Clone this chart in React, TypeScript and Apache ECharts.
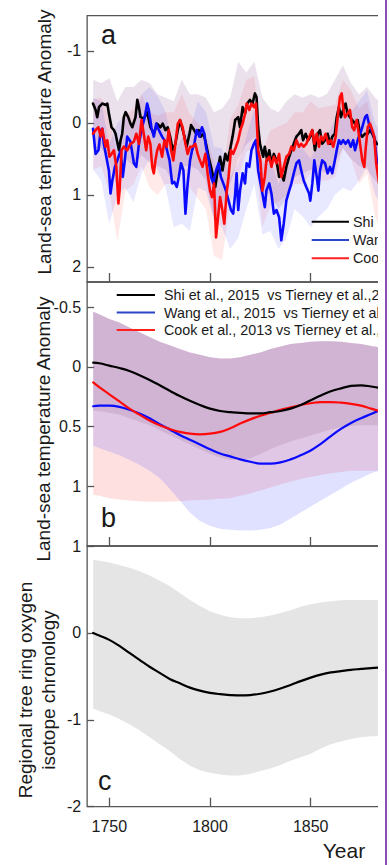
import React, { useEffect, useRef } from "react";
import * as echarts from "echarts";

const FONT = '"Liberation Sans", Arial, Helvetica, sans-serif';
const AXIS = "#555555";
const TXT = "#1a1a1a";

const CHART_W = 390;
const CHART_H = 865;
const VISIBLE_W = 378;

const YEAR_MIN = 1739;
const YEAR_MAX = 1884;
const YEAR_TICKS = [1750, 1800, 1850];

// ---------- panel a: annual land-sea temperature anomaly ----------
const shiA: [number, number][] = [
  [1741.9, -0.27], [1743.2, -0.18], [1744.0, -0.08], [1744.9, -0.22], [1746.5, -0.27], [1748.2, -0.25],
  [1749.0, -0.27], [1749.8, -0.13], [1751.1, 0.06], [1752.3, 0.1], [1753.1, 0.15], [1754.8, 0.38],
  [1755.6, 0.24], [1756.4, 0.15], [1757.2, -0.08], [1758.1, -0.15], [1759.4, -0.08], [1760.5, 0.01],
  [1761.4, 0.06], [1763.0, -0.08], [1763.9, -0.32], [1764.7, -0.22], [1765.5, -0.08], [1767.1, -0.06],
  [1768.8, -0.15], [1770.4, 0.06], [1772.1, 0.15], [1773.7, 0.01], [1775.4, 0.06], [1776.5, 0.01],
  [1777.9, 0.1], [1779.0, 0.06], [1780.2, 0.19], [1781.5, 0.38], [1782.8, 0.29], [1784.0, 0.1],
  [1785.1, -0.04], [1786.1, 0.06], [1787.3, 0.19], [1788.4, 0.33], [1789.8, 0.15], [1790.6, 0.03],
  [1791.7, 0.08], [1793.1, 0.15], [1794.4, 0.1], [1795.5, 0.19], [1796.8, 0.15], [1798.0, 0.29],
  [1799.3, 0.47], [1800.5, 0.61], [1801.6, 0.75], [1802.6, 0.89], [1803.8, 0.66], [1805.0, 0.47],
  [1806.2, 0.66], [1807.6, 0.43], [1808.7, 0.52], [1809.9, 0.38], [1811.2, 0.19], [1812.5, -0.04],
  [1814.0, -0.08], [1814.9, 0.06], [1816.2, -0.22], [1817.4, -0.13], [1818.5, -0.27], [1819.8, -0.32],
  [1821.1, -0.27], [1822.3, -0.41], [1823.1, -0.36], [1823.9, 0.06], [1824.8, 0.29], [1825.6, 0.38],
  [1826.4, 0.47], [1827.2, 0.33], [1828.4, 0.52], [1829.4, 0.38], [1830.5, 0.56], [1831.7, 0.43],
  [1833.0, 0.52], [1834.3, 0.75], [1835.4, 0.7], [1836.6, 0.8], [1837.9, 0.61], [1839.3, 0.47],
  [1840.4, 0.38], [1841.6, 0.29], [1842.9, 0.19], [1844.2, 0.15], [1845.3, 0.1], [1846.2, 0.24],
  [1847.5, 0.15], [1848.7, 0.24], [1849.8, 0.19], [1850.8, 0.1], [1852.1, 0.38], [1853.5, 0.15],
  [1854.6, 0.1], [1855.7, 0.29], [1857.1, 0.24], [1858.4, 0.15], [1859.6, 0.29], [1860.7, 0.19],
  [1862.0, 0.15], [1862.9, -0.08], [1864.0, -0.22], [1865.0, -0.08], [1866.1, -0.18], [1867.3, -0.27],
  [1868.3, -0.13], [1869.5, -0.08], [1870.6, -0.04], [1872.0, 0.01], [1873.3, -0.04], [1874.5, 0.15],
  [1875.6, 0.19], [1877.0, 0.15], [1878.3, 0.15], [1879.4, 0.1], [1880.6, 0.15], [1881.9, 0.24],
  [1882.8, 0.29], [1884.0, 0.3],
];

const wangA: [number, number][] = [
  [1741.9, 0.08], [1743.2, 0.43], [1744.6, 0.38], [1745.7, 0.1], [1746.5, 0.08], [1747.3, 0.29],
  [1748.5, 0.47], [1749.8, 0.66], [1750.6, 0.98], [1751.5, 0.8], [1752.8, 0.61], [1754.0, 0.52],
  [1755.6, 0.38], [1756.7, 0.75], [1757.7, 0.52], [1758.9, 0.19], [1760.5, 0.26], [1762.2, 0.56],
  [1763.4, 0.61], [1764.7, 0.29], [1766.3, 0.06], [1767.6, -0.08], [1768.8, -0.27], [1769.6, -0.18],
  [1770.9, 0.06], [1772.1, 0.19], [1773.3, 0.01], [1774.6, 0.1], [1776.2, 0.19], [1777.4, 0.24],
  [1779.9, 0.52], [1781.2, 0.84], [1782.3, 0.82], [1783.5, 0.89], [1784.5, 0.75], [1785.6, 0.56],
  [1786.8, 0.66], [1787.8, 1.26], [1788.9, 0.84], [1790.1, 0.52], [1791.1, 0.38], [1792.2, 0.29],
  [1793.4, 0.1], [1794.7, 0.19], [1796.0, 0.06], [1797.2, 0.15], [1798.0, 0.33], [1799.3, 0.52],
  [1800.5, 0.75], [1801.6, 0.84], [1803.0, 0.66], [1804.3, 0.56], [1805.4, 0.75], [1806.6, 0.84],
  [1807.9, 0.94], [1809.2, 1.08], [1810.4, 1.21], [1811.5, 1.26], [1812.5, 0.98], [1813.2, 0.7],
  [1814.0, 1.21], [1814.9, 0.94], [1816.2, 0.7], [1817.4, 0.84], [1818.2, 0.56], [1819.5, 0.61],
  [1820.6, 0.38], [1821.8, 0.29], [1822.8, 0.24], [1823.9, 0.66], [1824.8, 0.8], [1826.0, 0.98],
  [1827.2, 1.17], [1828.0, 0.94], [1829.4, 0.84], [1830.5, 0.98], [1831.7, 1.26], [1833.0, 1.21],
  [1834.3, 1.31], [1835.4, 1.63], [1836.6, 1.4], [1837.9, 1.08], [1839.3, 0.94], [1840.4, 0.84],
  [1841.6, 0.7], [1842.9, 0.56], [1844.2, 0.52], [1845.3, 0.66], [1846.5, 0.8], [1847.8, 0.89],
  [1849.2, 0.98], [1849.8, 1.08], [1850.8, 0.84], [1851.8, 0.52], [1853.0, 0.75], [1853.8, 0.94],
  [1854.6, 0.66], [1855.7, 0.52], [1857.1, 0.56], [1858.4, 0.7], [1859.6, 0.61], [1860.7, 0.7],
  [1862.0, 0.52], [1862.9, 0.38], [1864.0, 0.24], [1865.0, 0.29], [1866.1, 0.24], [1867.3, 0.29],
  [1868.6, 0.24], [1869.9, 0.33], [1871.1, 0.24], [1872.0, 0.38], [1873.3, 0.24], [1874.5, 0.15],
  [1875.6, 0.06], [1877.0, -0.08], [1877.9, -0.11], [1878.9, 0.01], [1880.2, 0.1], [1881.5, 0.19],
  [1882.8, 0.52], [1884.0, 0.6],
];

const cookA: [number, number][] = [
  [1741.9, 0.15], [1743.2, 0.1], [1744.6, 0.06], [1745.7, 0.19], [1746.5, 0.08], [1748.2, 0.33],
  [1749.0, 0.24], [1750.1, 0.47], [1751.1, 0.43], [1752.3, 0.38], [1753.5, 0.61], [1754.5, 1.12],
  [1755.1, 0.94], [1756.1, 0.38], [1757.2, 0.33], [1758.9, 0.38], [1760.5, 0.29], [1762.2, 0.26],
  [1763.4, 0.15], [1764.7, 0.29], [1766.0, -0.04], [1767.1, 0.15], [1768.3, 0.38], [1769.3, 0.19],
  [1770.4, 0.29], [1771.3, 0.61], [1772.1, 0.7], [1772.9, 0.52], [1773.8, 0.38], [1774.9, 0.3],
  [1776.2, 0.47], [1777.4, 0.24], [1778.5, 0.33], [1779.5, 0.1], [1780.7, 0.38], [1781.8, 0.52],
  [1782.8, 0.29], [1784.0, 0.01], [1785.1, -0.04], [1786.4, 0.06], [1787.8, 0.29], [1788.9, 0.43],
  [1790.1, 0.33], [1791.4, 0.33], [1792.7, 0.29], [1793.9, 0.43], [1795.0, 0.52], [1796.3, 0.61],
  [1797.7, 0.43], [1798.8, 0.7], [1800.0, 0.94], [1801.0, 1.03], [1802.0, 0.84], [1803.0, 1.59],
  [1804.0, 1.31], [1805.0, 1.03], [1805.9, 1.17], [1807.1, 1.4], [1808.2, 0.98], [1809.2, 0.75],
  [1810.4, 0.38], [1811.5, 0.43], [1812.9, 0.33], [1814.0, 0.24], [1815.1, 0.1], [1816.2, 0.01],
  [1817.4, -0.13], [1818.2, -0.27], [1819.5, -0.18], [1820.6, -0.27], [1821.8, -0.22], [1822.8, -0.27],
  [1823.9, 0.38], [1825.0, 0.52], [1826.0, 0.94], [1827.2, 0.75], [1828.0, 0.52], [1829.4, 0.47],
  [1830.5, 0.61], [1831.7, 0.47], [1833.0, 0.56], [1834.3, 0.43], [1835.4, 0.75], [1836.6, 0.61],
  [1837.9, 0.47], [1839.3, 0.43], [1840.4, 0.33], [1841.6, 0.38], [1842.9, 0.24], [1844.2, 0.33],
  [1845.3, 0.29], [1846.5, 0.33], [1847.8, 0.29], [1849.2, 0.2], [1850.8, 0.1], [1851.8, 0.29],
  [1853.0, 0.15], [1854.1, 0.33], [1855.1, 0.19], [1856.2, 0.24], [1857.4, 0.15], [1858.7, 0.29],
  [1860.0, 0.24], [1861.2, 0.33], [1862.4, 0.19], [1863.4, -0.08], [1864.5, -0.36], [1865.4, -0.41],
  [1866.1, -0.22], [1867.0, -0.08], [1868.3, -0.13], [1869.5, -0.18], [1870.6, 0.06], [1871.6, 0.1],
  [1872.8, -0.04], [1873.6, 0.1], [1874.5, 0.29], [1875.6, 0.52], [1876.6, 0.61], [1877.2, 0.38],
  [1878.3, 0.06], [1879.4, 0.01], [1880.6, 0.1], [1881.5, 0.19], [1882.5, 0.56], [1884.0, 0.85],
];

// uncertainty envelopes for panel a: [year, upper edge, lower edge]
const shiBandA: [number, number, number][] = [
  [1742, -0.6, 0.35], [1746, -0.55, 0.35], [1750, -0.62, 0.55], [1754, -0.3, 0.9], [1758, -0.5, 0.5],
  [1762, -0.5, 0.6], [1766, -0.6, 0.45], [1770, -0.55, 0.55], [1774, -0.4, 0.6], [1778, -0.35, 0.65],
  [1782, -0.3, 0.85], [1786, -0.6, 0.6], [1790, -0.4, 0.6], [1794, -0.4, 0.65], [1798, -0.35, 0.8],
  [1802, -0.15, 1.35], [1806, -0.2, 1.15], [1810, -0.35, 0.85], [1814, -0.85, 0.5], [1818, -0.7, 0.3],
  [1822, -0.85, 0.2], [1826, -0.35, 0.95], [1830, -0.2, 1.0], [1834, -0.15, 1.2], [1838, -0.3, 1.05],
  [1842, -0.4, 0.75], [1846, -0.35, 0.7], [1850, -0.4, 0.65], [1854, -0.35, 0.65], [1858, -0.4, 0.7],
  [1862, -0.6, 0.55], [1866, -0.8, 0.35], [1870, -0.55, 0.5], [1874, -0.4, 0.6], [1878, -0.5, 0.65],
  [1882, -0.35, 0.8], [1884, -0.3, 0.85],
];

const wangBandA: [number, number, number][] = [
  [1742, -0.35, 0.65], [1746, -0.3, 0.8], [1750, 0.3, 1.4], [1754, 0.0, 1.0], [1758, -0.1, 0.9],
  [1762, 0.05, 1.1], [1766, -0.4, 0.7], [1770, -0.5, 0.5], [1774, -0.37, 0.65], [1778, -0.15, 0.9],
  [1782, 0.4, 1.45], [1786, 0.2, 1.4], [1790, 0.1, 1.5], [1794, -0.3, 0.9], [1798, -0.15, 0.95],
  [1802, 0.33, 1.35], [1806, 0.35, 1.45], [1810, 0.75, 1.75], [1814, 0.55, 1.6], [1818, 0.2, 1.2],
  [1822, -0.2, 0.85], [1826, 0.55, 1.55], [1830, 0.5, 1.5], [1834, 0.85, 1.75], [1838, 0.55, 1.6],
  [1842, 0.15, 1.2], [1846, 0.35, 1.3], [1850, 0.5, 1.45], [1854, 0.25, 1.3], [1858, 0.2, 1.2],
  [1862, -0.05, 1.0], [1866, -0.2, 0.9], [1870, -0.15, 0.95], [1874, -0.3, 0.8], [1878, -0.45, 0.6],
  [1882, 0.0, 1.0], [1884, 0.1, 1.1],
];

const cookBandA: [number, number, number][] = [
  [1742, -0.33, 0.65], [1746, -0.35, 0.6], [1750, -0.05, 0.95], [1754, 0.45, 1.65], [1758, -0.1, 0.95],
  [1762, -0.2, 0.85], [1766, -0.4, 0.6], [1770, -0.15, 0.9], [1774, -0.1, 1.0], [1778, -0.15, 0.85],
  [1782, -0.15, 0.85], [1786, -0.4, 0.7], [1790, -0.12, 0.9], [1794, 0.0, 1.05], [1798, 0.15, 1.2],
  [1802, 0.55, 1.85], [1806, 0.8, 1.9], [1810, -0.05, 1.1], [1814, -0.25, 0.8], [1818, -0.6, 0.4],
  [1822, -0.65, 0.35], [1826, 0.4, 1.45], [1830, 0.1, 1.15], [1834, 0.05, 1.1], [1838, 0.0, 1.0],
  [1842, -0.15, 0.85], [1846, -0.15, 0.85], [1850, -0.3, 0.7], [1854, -0.2, 0.8], [1858, -0.23, 0.8],
  [1862, -0.25, 0.75], [1866, -0.6, 0.35], [1870, -0.45, 0.5], [1874, -0.2, 0.85], [1878, -0.3, 0.7],
  [1882, 0.15, 1.3], [1884, 0.3, 1.45],
];

// ---------- panel b: smoothed comparisons ----------
const yearsB = [
  1742, 1745, 1750, 1755, 1760, 1765, 1770, 1775, 1780, 1785, 1790, 1795, 1800, 1805, 1810,
  1815, 1820, 1825, 1830, 1835, 1840, 1845, 1850, 1855, 1860, 1865, 1870, 1875, 1880, 1884,
];
const shiB = [
  -0.035, -0.03, -0.01, 0.01, 0.035, 0.07, 0.11, 0.155, 0.2, 0.245, 0.285, 0.32, 0.35, 0.37, 0.38,
  0.385, 0.39, 0.39, 0.38, 0.37, 0.35, 0.32, 0.28, 0.24, 0.205, 0.18, 0.16, 0.155, 0.165, 0.175,
];
const wangB = [
  0.33, 0.325, 0.325, 0.335, 0.36, 0.39, 0.43, 0.48, 0.525, 0.57, 0.61, 0.65, 0.69, 0.725, 0.75,
  0.775, 0.795, 0.81, 0.81, 0.8, 0.775, 0.74, 0.7, 0.645, 0.58, 0.52, 0.47, 0.43, 0.395, 0.365,
];
const cookB = [
  0.13, 0.17, 0.23, 0.29, 0.35, 0.4, 0.45, 0.49, 0.52, 0.545, 0.56, 0.565, 0.56, 0.545, 0.515,
  0.475, 0.44, 0.41, 0.385, 0.36, 0.34, 0.32, 0.305, 0.295, 0.295, 0.3, 0.31, 0.325, 0.35, 0.37,
];
const bandTopB = [
  -0.46, -0.44, -0.4, -0.37, -0.33, -0.29, -0.25, -0.21, -0.18, -0.15, -0.12, -0.1, -0.08, -0.07, -0.07,
  -0.08, -0.1, -0.12, -0.15, -0.17, -0.19, -0.2, -0.21, -0.215, -0.215, -0.21, -0.2, -0.19, -0.175, -0.165,
];
const shiLowB = [
  0.37, 0.37, 0.385, 0.4, 0.43, 0.46, 0.49, 0.53, 0.57, 0.61, 0.65, 0.69, 0.73, 0.76, 0.78,
  0.78, 0.765, 0.73, 0.69, 0.655, 0.625, 0.6, 0.575, 0.55, 0.525, 0.505, 0.495, 0.49, 0.49, 0.49,
];
const wangLowB = [
  0.66, 0.68, 0.71, 0.74, 0.78, 0.82, 0.87, 0.93, 1.02, 1.12, 1.22, 1.29, 1.33, 1.355, 1.365,
  1.37, 1.37, 1.365, 1.35, 1.32, 1.27, 1.22, 1.17, 1.12, 1.07, 1.02, 0.97, 0.93, 0.89, 0.87,
];
const cookLowB = [
  1.07, 1.08, 1.1, 1.11, 1.12, 1.125, 1.13, 1.13, 1.13, 1.125, 1.12, 1.115, 1.11, 1.105, 1.1,
  1.08, 1.06, 1.035, 1.01, 0.985, 0.96, 0.94, 0.92, 0.905, 0.89, 0.88, 0.87, 0.87, 0.87, 0.87,
];

// ---------- panel c: tree-ring oxygen isotope chronology ----------
const treeC = [
  0.0, -0.03, -0.08, -0.15, -0.23, -0.31, -0.39, -0.46, -0.53, -0.58, -0.63, -0.665, -0.69, -0.705, -0.715,
  -0.72, -0.715, -0.7, -0.675, -0.64, -0.6, -0.555, -0.515, -0.48, -0.455, -0.44, -0.425, -0.415, -0.405, -0.4,
];
const treeUpperC = [
  0.84, 0.83, 0.81, 0.78, 0.75, 0.71, 0.66, 0.6, 0.54, 0.46, 0.38, 0.31, 0.25, 0.21, 0.18,
  0.17, 0.17, 0.18, 0.2, 0.23, 0.26, 0.3, 0.33, 0.35, 0.365, 0.375, 0.38, 0.38, 0.38, 0.38,
];
const treeLowerC = [
  -0.87, -0.9, -0.94, -0.99, -1.05, -1.12, -1.2, -1.28, -1.36, -1.45, -1.53, -1.58, -1.61, -1.63, -1.64,
  -1.64, -1.62, -1.59, -1.56, -1.52, -1.47, -1.43, -1.39, -1.33, -1.28, -1.25, -1.22, -1.2, -1.19, -1.19,
];

const legendA = ["Shi et al., 2015", "Wang et al., 2015", "Cook et al., 2013"];
const legendB = [
  "Shi et al., 2015  vs Tierney et al.,2015",
  "Wang et al., 2015  vs Tierney et al.,2015",
  "Cook et al., 2013 vs Tierney et al.,2015",
];

const COLORS = { shi: "#000000", wang: "#0a0aff", cook: "#ff0a0a" };
const LEGEND_COLORS = ["#000000", "#2a46c8", "#ff2020"];
// annual envelopes (lighter) and smoothed envelopes
const BAND_A = {
  shi: "rgba(130,70,140,0.16)",
  wang: "rgba(90,90,255,0.14)",
  cook: "rgba(255,40,40,0.1)",
};
const BAND_B = {
  shi: "rgba(150,105,135,0.2)",
  wang: "rgba(100,100,255,0.2)",
  cook: "rgba(255,0,0,0.12)",
};

type Row = [number, number, number];

const zipRows = (years: number[], upper: number[], lower: number[]): Row[] =>
  years.map((y, i) => [y, upper[i], lower[i]]);

// Envelope drawn as one polygon: along the upper edge, then back along the lower edge,
// every vertex placed through the cartesian's own coord().
function band(axis: number, rows: Row[], color: string) {
  return {
    type: "custom", xAxisIndex: axis, yAxisIndex: axis, silent: true, z: 2, clip: true,
    data: rows,
    encode: { x: 0, y: [1, 2] },
    renderItem: (params: any, api: any) => {
      if (params.dataIndex !== 0) return null;
      const upper = rows.map((r) => api.coord([r[0], r[1]]));
      const lower = rows.slice().reverse().map((r) => api.coord([r[0], r[2]]));
      return {
        type: "polygon",
        shape: { points: upper.concat(lower) },
        style: { fill: color, stroke: "none" },
      };
    },
  };
}

function curve(name: string, axis: number, data: number[][], color: string, width: number, smooth: boolean | number) {
  return {
    type: "line", name, xAxisIndex: axis, yAxisIndex: axis, data, symbol: "none", smooth,
    silent: true, lineStyle: { color, width, cap: "round", join: "round" }, itemStyle: { color }, z: 3,
  };
}

const GRID_LEFT = 87.15;
const GRID_RIGHT_EDGE = 379.2;
const PANELS = [
  { top: 15.7, height: 266.3 },
  { top: 282, height: 264 },
  { top: 546, height: 260.7 },
];

function buildOption() {
  const grid = PANELS.map((p) => ({
    left: GRID_LEFT, width: GRID_RIGHT_EDGE - GRID_LEFT, top: p.top, height: p.height,
    show: true, borderColor: AXIS, borderWidth: 1.3, backgroundColor: "transparent",
  }));

  const xAxis = PANELS.map((_, i) => ({
    type: "value", gridIndex: i, min: YEAR_MIN, max: YEAR_MAX, position: "bottom",
    axisLine: { show: false, onZero: false }, splitLine: { show: false },
    axisTick: { show: true, inside: true, length: 9, customValues: YEAR_TICKS, lineStyle: { color: AXIS, width: 1.3 } },
    axisLabel: {
      show: i === 2, customValues: YEAR_TICKS, margin: 12, fontSize: 16, color: TXT, fontFamily: FONT,
      formatter: (v: number) => String(v),
    },
  }));

  const yCommon = {
    type: "value", position: "left", axisLine: { show: false, onZero: false }, splitLine: { show: false },
  };
  const yTick = (vals: number[]) => ({
    axisTick: { show: true, inside: true, length: 7, customValues: vals, lineStyle: { color: AXIS, width: 1.3 } },
    axisLabel: { customValues: vals, margin: 6, fontSize: 16, color: TXT, fontFamily: FONT },
  });
  const yAxis = [
    { ...yCommon, gridIndex: 0, inverse: true, min: -1.49, max: 2.21, ...yTick([-1, 0, 1, 2]) },
    { ...yCommon, gridIndex: 1, inverse: true, min: -0.71, max: 1.5, ...yTick([-0.5, 0, 0.5, 1]) },
    { ...yCommon, gridIndex: 2, min: -2, max: 1, ...yTick([-2, -1, 0, 1]) },
  ];

  const series: any[] = [
    // panel a
    band(0, cookBandA, BAND_A.cook),
    band(0, wangBandA, BAND_A.wang),
    band(0, shiBandA, BAND_A.shi),
    curve(legendA[0], 0, shiA, COLORS.shi, 2.6, false),
    curve(legendA[1], 0, wangA, COLORS.wang, 2.6, false),
    curve(legendA[2], 0, cookA, COLORS.cook, 2.6, false),
    // panel b
    band(1, zipRows(yearsB, bandTopB, cookLowB), BAND_B.cook),
    band(1, zipRows(yearsB, bandTopB, wangLowB), BAND_B.wang),
    band(1, zipRows(yearsB, bandTopB, shiLowB), BAND_B.shi),
    curve(legendB[1], 1, yearsB.map((y, i) => [y, wangB[i]]), COLORS.wang, 2.2, 0.4),
    curve(legendB[2], 1, yearsB.map((y, i) => [y, cookB[i]]), COLORS.cook, 2.2, 0.4),
    curve(legendB[0], 1, yearsB.map((y, i) => [y, shiB[i]]), COLORS.shi, 2.2, 0.4),
    // panel c
    band(2, zipRows(yearsB, treeUpperC, treeLowerC), "#e5e5e5"),
    curve("Regional tree ring oxygen isotope chronology", 2, yearsB.map((y, i) => [y, treeC[i]]), "#000000", 2.2, 0.4),
  ];

  const text = (x: number, y: number, t: string, size: number, extra: any = {}) => ({
    type: "text", x, y, z: 100, silent: true, ...extra,
    style: {
      text: t, font: `${size}px ${FONT}`, fill: TXT,
      align: extra.align || "left", textAlign: extra.align || "left",
      verticalAlign: "middle", textVerticalAlign: "middle",
      lineHeight: extra.lineHeight,
    },
  });

  const legendItems = (x1: number, x2: number, tx: number, ys: number[], labels: string[]) =>
    labels.flatMap((label, i) => [
      {
        type: "line", z: 100, silent: true,
        shape: { x1, y1: ys[i], x2, y2: ys[i] },
        style: { stroke: LEGEND_COLORS[i], lineWidth: 2 },
      },
      text(tx, ys[i], label, 14.3),
    ]);

  const graphic: any[] = [
    text(101, 35, "a", 27),
    text(101, 517.5, "b", 27),
    text(98, 780.5, "c", 27),
    text(44, 142, "Land-sea temperature Anomaly", 19, { rotation: Math.PI / 2, align: "center" }),
    text(43, 429, "Land-sea temperature Anomaly", 19, { rotation: Math.PI / 2, align: "center" }),
    text(36.5, 690, "Regional tree ring oxygen\nisotope chronology", 19, {
      rotation: Math.PI / 2, align: "center", lineHeight: 23,
    }),
    text(344, 850, "Year", 21, { align: "center" }),
    ...legendItems(311.7, 349, 353, [221.7, 240, 258.3], legendA),
    ...legendItems(116.7, 155, 164, [295, 312.5, 330], legendB),
  ];

  return {
    animation: false,
    textStyle: { fontFamily: FONT },
    grid, xAxis, yAxis, series, graphic,
  };
}

export default function App() {
  const ref = useRef<HTMLDivElement | null>(null);

  useEffect(() => {
    if (!ref.current) return;
    const chart = echarts.init(ref.current, undefined, { renderer: "svg" });
    chart.setOption(buildOption() as any);
    return () => chart.dispose();
  }, []);

  return (
    <div style={{ position: "absolute", left: 0, top: 0, width: CHART_W, height: CHART_H, background: "#fff" }}>
      <div style={{ position: "absolute", left: 0, top: 0, width: VISIBLE_W, height: CHART_H, overflow: "hidden" }}>
        <div ref={ref} style={{ width: CHART_W, height: CHART_H }} />
      </div>
      <div style={{ position: "absolute", left: 384.5, top: 0, width: 2, height: CHART_H, background: "#8a4fb5" }} />
    </div>
  );
}
